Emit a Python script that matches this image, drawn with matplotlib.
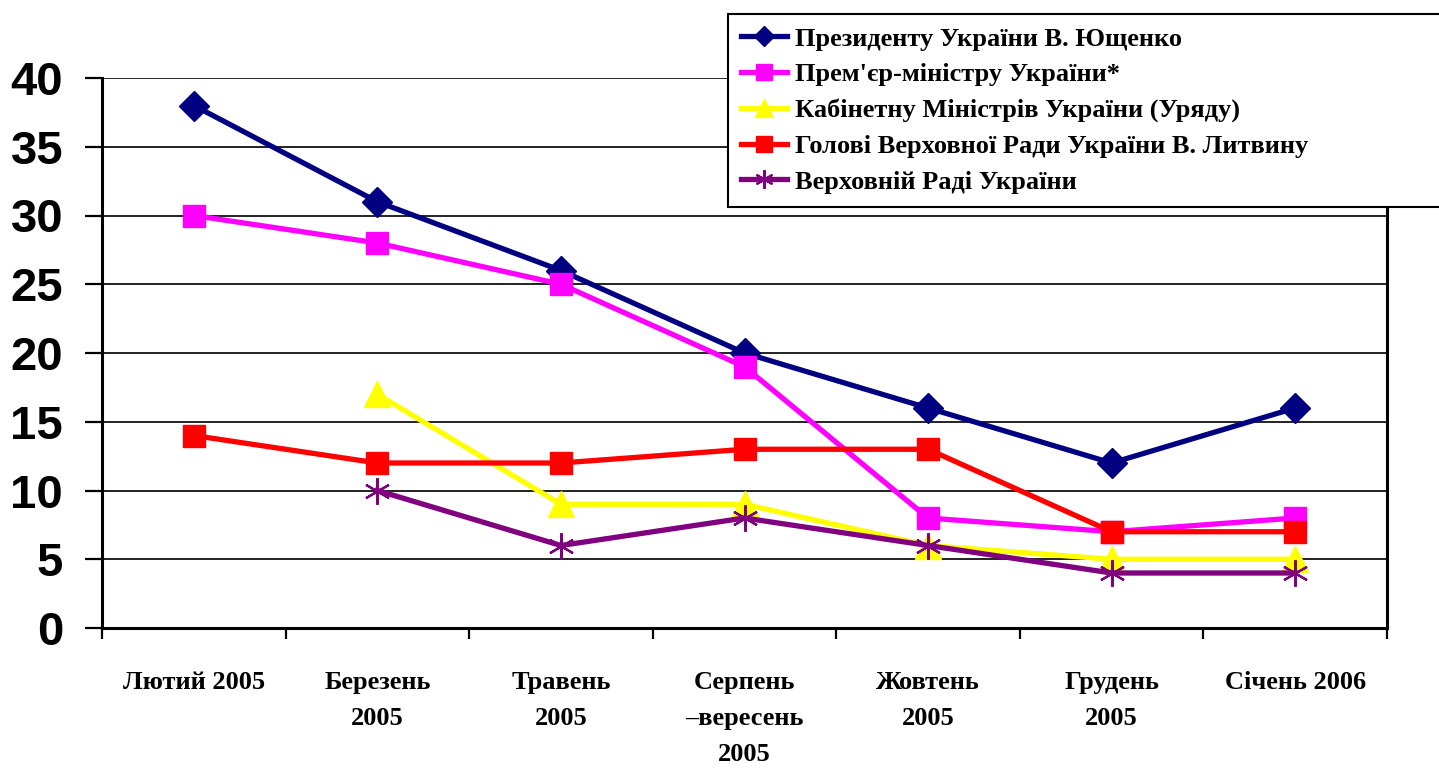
import numpy as np
import matplotlib
matplotlib.use("Agg")
import matplotlib.pyplot as plt

categories = ["Лютий 2005", "Березень\n2005", "Травень\n2005", "Серпень\n–вересень\n2005",
              "Жовтень\n2005", "Грудень\n2005", "Січень 2006"]
series_names = ["Президенту України В. Ющенко",
                "Прем'єр-міністру України*",
                "Кабінетну Міністрів України (Уряду)",
                "Голові Верховної Ради України В. Литвину",
                "Верховній Раді України"]
president = [38, 31, 26, 20, 16, 12, 16]
premier = [30, 28, 25, 19, 8, 7, 8]
cabinet = [np.nan, 17, 9, 9, 6, 5, 5]
speaker = [14, 12, 12, 13, 13, 7, 7]
parliament = [np.nan, 10, 6, 8, 6, 4, 4]
y_ticks = [0, 5, 10, 15, 20, 25, 30, 35, 40]

W, H = 1439, 773
fig = plt.figure(figsize=(W / 100, H / 100), dpi=100)
ax = fig.add_axes([102 / W, 1 - 628 / H, (1387 - 102) / W, (628 - 78) / H])

x = np.arange(len(categories))
styles = [
    dict(color="#000080", marker="D", ms=15, mec="#000080", mew=1),
    dict(color="#FF00FF", marker="s", ms=16, mec="#FF00FF", mew=1),
    dict(color="#FFFF00", marker="^", ms=19, mec="#FFFF00", mew=1),
    dict(color="#FF0000", marker="s", ms=16, mec="#FF0000", mew=1),
    dict(color="#800080", marker=(6, 2, 0), ms=19, mec="#800080", mew=1.6),
]
data = [president, premier, cabinet, speaker, parliament]
handles = []
for vals, st, name in zip(data, styles, series_names):
    ln, = ax.plot(x, vals, lw=3.8, label=name, zorder=3, clip_on=False, **st)
    handles.append(ln)

ax.set_xlim(-0.5, len(categories) - 0.5)
ax.set_ylim(0, 40)
ax.set_yticks(y_ticks)
ax.set_yticklabels([str(v) for v in y_ticks], fontfamily="Liberation Sans",
                   fontweight="bold", fontsize=34)
ax.yaxis.grid(True, color="#222222", lw=1.4)
ax.set_axisbelow(True)
ax.tick_params(axis="y", direction="out", length=12, width=1.6, pad=16)

ax.set_xticks(x)
ax.set_xticklabels(categories, fontfamily="Liberation Serif", fontweight="bold",
                   fontsize=19, linespacing=1.72, va="top")
ax.set_xticks(np.arange(-0.5, len(categories)), minor=True)
ax.tick_params(axis="x", which="major", length=0, pad=31)
ax.tick_params(axis="x", which="minor", direction="out", length=8, width=1.6)

for s in ["left", "bottom", "right"]:
    ax.spines[s].set_linewidth(2.2)
    ax.spines[s].set_color("black")
ax.spines["top"].set_visible(False)

leg = fig.legend(handles=handles, loc="upper left",
                 bbox_to_anchor=(728 / W, 1 - 14 / H, (1460 - 728) / W, 0.0),
                 mode="expand", borderaxespad=0, frameon=True, fancybox=False,
                 framealpha=1, edgecolor="black", borderpad=0.5, labelspacing=0.46,
                 handlelength=1.75, handletextpad=0.3, markerscale=0.7,
                 prop=dict(family="Liberation Serif", weight="bold", size=19))
leg.get_frame().set_linewidth(1.5)

fig.savefig("out.png", dpi=100)
